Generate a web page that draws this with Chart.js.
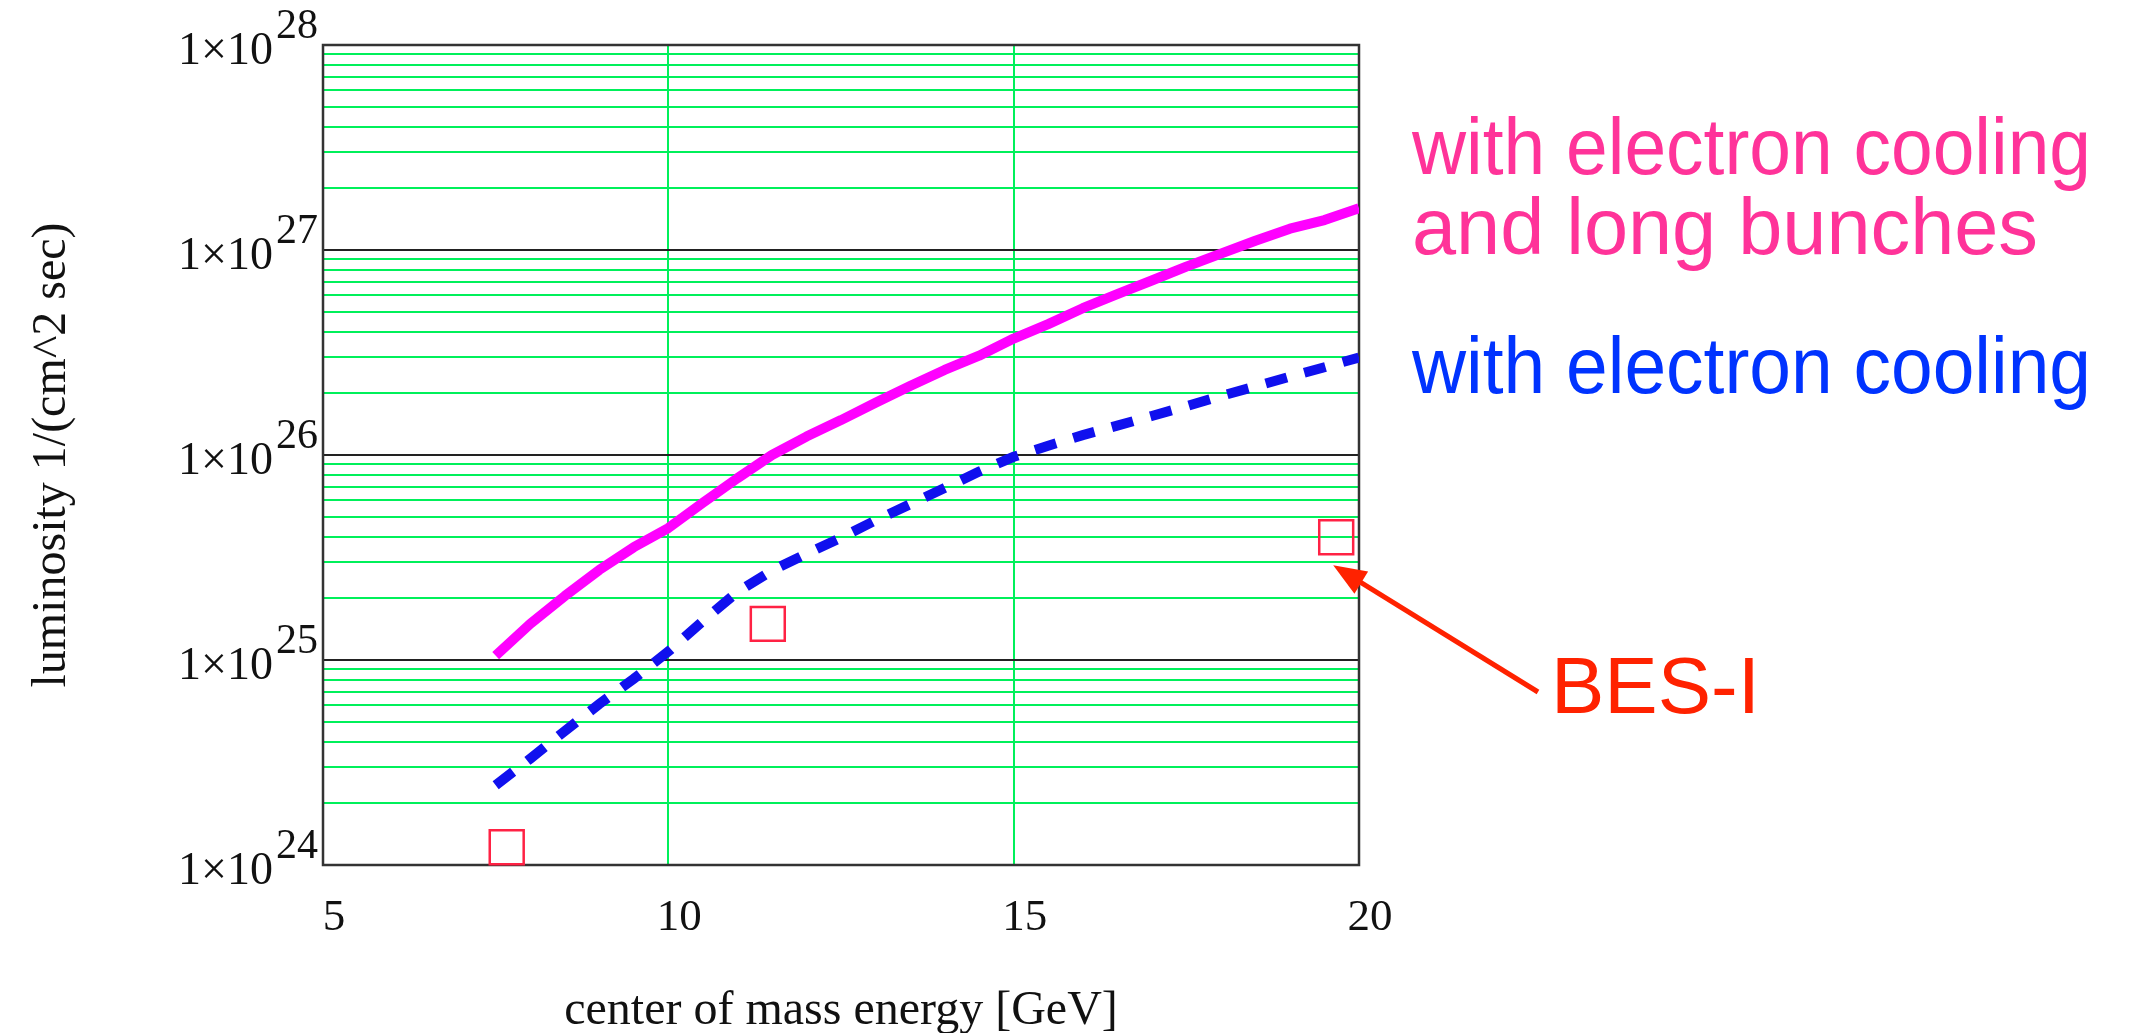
<!DOCTYPE html>
<html><head><meta charset="utf-8">
<script src="https://cdn.jsdelivr.net/npm/chart.js@4.4.0/dist/chart.umd.min.js"></script>
<style>html,body{margin:0;padding:0;background:#fff;overflow:hidden}#wrap{position:relative;width:2149px;height:1033px}</style>
</head><body><div id="wrap"><canvas id="c" width="2149" height="1033"></canvas></div>
<script>
// ---- data ----
const energies = [7.5, 8.0, 8.5, 9.0, 9.5, 10.0, 10.5, 11.0, 11.5, 12.0, 12.5, 13.0, 13.5,
                  14.0, 14.5, 15.0, 15.5, 16.0, 16.5, 17.0, 17.5, 18.0, 18.5, 19.0, 19.5, 20.0];
const lumiCoolingLongBunches = [1.05e25, 1.50e25, 2.05e25, 2.75e25, 3.55e25, 4.4e25, 5.85e25, 7.7e25, 1.0e26,
                  1.23e26, 1.48e26, 1.8e26, 2.17e26, 2.6e26, 3.05e26, 3.7e26, 4.35e26, 5.2e26, 6.1e26,
                  7.1e26, 8.3e26, 9.6e26, 1.11e27, 1.27e27, 1.40e27, 1.60e27];
const lumiCooling = [2.45e24, 3.3e24, 4.5e24, 6.1e24, 8.1e24, 1.1e25, 1.55e25, 2.15e25, 2.73e25,
                  3.3e25, 3.95e25, 4.8e25, 5.75e25, 6.9e25, 8.3e25, 9.8e25, 1.11e26, 1.25e26, 1.39e26,
                  1.55e26, 1.73e26, 1.94e26, 2.16e26, 2.41e26, 2.68e26, 2.99e26];
const besEnergies = [7.66, 11.44, 19.67];
const besLumi = [1.22e24, 1.5e25, 3.97e25];
const xTickValues = [5, 10, 15, 20];
const yDecadeExponents = [24, 25, 26, 27, 28];
const yMinorMantissas = [2, 3, 4, 5, 6, 7, 8, 9];
const seriesNames = ['with electron cooling and long bunches', 'with electron cooling', 'BES-I'];
const annotationLines = ['with electron cooling', 'and long bunches', 'with electron cooling', 'BES-I'];
const xTitle = 'center of mass energy [GeV]';
const yTitle = 'luminosity 1/(cm^2 sec)';

// ---- build library structures ----
const toXY = (xs, ys) => xs.map((x, i) => ({x: x, y: ys[i]}));
const yGridValues = [];
yDecadeExponents.forEach((e, i) => {
  yGridValues.push(Math.pow(10, e));
  if (i < yDecadeExponents.length - 1) yMinorMantissas.forEach(m => yGridValues.push(m * Math.pow(10, e)));
});
function mantissa(v) {
  const e = Math.floor(Math.log10(v) + 1e-9);
  return Math.round(v / Math.pow(10, e));
}

const GREEN = '#00f05a';
const SERIF = '"Liberation Serif", "Times New Roman", serif';
const SANS = '"Liberation Sans", Arial, sans-serif';

const decor = {
  id: 'decor',
  beforeDatasetsDraw(chart) {
    const {ctx, chartArea: a} = chart;
    ctx.save();
    ctx.strokeStyle = '#333';
    ctx.lineWidth = 2.5;
    ctx.strokeRect(a.left, a.top, a.right - a.left, a.bottom - a.top);
    ctx.restore();
  },
  afterDraw(chart) {
    const {ctx, chartArea: a} = chart;
    const ys = chart.scales.y, xs = chart.scales.x;
    ctx.save();
    // y tick labels 1x10^n
    ctx.fillStyle = '#111';
    ctx.textBaseline = 'alphabetic';
    ctx.textAlign = 'right';
    yDecadeExponents.forEach(e => {
      const py = ys.getPixelForValue(Math.pow(10, e));
      ctx.font = '42px ' + SERIF;
      const sup = String(e);
      const supW = ctx.measureText(sup).width;
      const right = a.left - 5;
      ctx.fillText(sup, right, py - 7);
      ctx.font = '46px ' + SERIF;
      ctx.fillText('1\u00d710', right - supW - 3, py + 19);
    });
    // annotations
    ctx.textAlign = 'left';
    ctx.font = '80px ' + SANS;
    ctx.fillStyle = '#ff3399';
    ctx.fillText(annotationLines[0], 1412, 174, 679);
    ctx.fillText(annotationLines[1], 1412, 254, 626);
    ctx.fillStyle = '#0033ff';
    ctx.fillText(annotationLines[2], 1412, 393, 679);
    ctx.fillStyle = '#ff2200';
    ctx.font = '80px ' + SANS;
    ctx.fillText(annotationLines[3], 1551, 713);
    // arrow to the last BES-I point
    const px = xs.getPixelForValue(besEnergies[2]);
    const py = ys.getPixelForValue(besLumi[2]);
    const tip = {x: px - 3, y: py + 28};
    const tail = {x: 1538, y: 692};
    const dx = tip.x - tail.x, dy = tip.y - tail.y, L = Math.hypot(dx, dy);
    const ux = dx / L, uy = dy / L;
    const hl = 33, hw = 13;
    const bx = tip.x - ux * hl, by = tip.y - uy * hl;
    ctx.strokeStyle = '#ff2200';
    ctx.fillStyle = '#ff2200';
    ctx.lineWidth = 5;
    ctx.beginPath(); ctx.moveTo(tail.x, tail.y); ctx.lineTo(bx + ux * 4, by + uy * 4); ctx.stroke();
    ctx.beginPath();
    ctx.moveTo(tip.x, tip.y);
    ctx.lineTo(bx - uy * hw, by + ux * hw);
    ctx.lineTo(bx + uy * hw, by - ux * hw);
    ctx.closePath(); ctx.fill();
    ctx.restore();
  }
};

new Chart(document.getElementById('c'), {
  type: 'line',
  data: {
    datasets: [
      {label: seriesNames[0], data: toXY(energies, lumiCoolingLongBunches), borderColor: '#ff00ff',
       borderWidth: 10, pointRadius: 0, tension: 0, fill: false, borderCapStyle: 'butt', borderJoinStyle: 'round'},
      {label: seriesNames[1], data: toXY(energies, lumiCooling), borderColor: '#1010ee',
       borderWidth: 10, borderDash: [22, 18], pointRadius: 0, tension: 0, fill: false, borderCapStyle: 'butt'},
      {label: seriesNames[2], data: toXY(besEnergies, besLumi), showLine: false, pointStyle: 'rect',
       pointRadius: 24, pointHoverRadius: 24, pointBorderWidth: 2.5, pointBorderColor: '#ff2244',
       pointBackgroundColor: 'rgba(0,0,0,0)', borderColor: '#ff2244', clip: false}
    ]
  },
  options: {
    responsive: false,
    animation: false,
    devicePixelRatio: 1,
    layout: {padding: {left: 0, right: 790, top: 45, bottom: 0}},
    plugins: {legend: {display: false}, tooltip: {enabled: false}},
    scales: {
      x: {
        type: 'linear', min: 5, max: 20,
        afterBuildTicks: s => { s.ticks = xTickValues.map(v => ({value: v})); },
        afterFit: s => { s.height = 168; },
        border: {display: false},
        grid: {drawTicks: false, lineWidth: 2,
               color: c => (c.tick && (c.tick.value === 5 || c.tick.value === 20)) ? 'rgba(0,0,0,0)' : GREEN},
        ticks: {autoSkip: false, maxRotation: 0, color: '#111', padding: 26, labelOffset: 11,
                font: {family: SERIF, size: 45}},
        title: {display: true, text: xTitle, color: '#111', padding: {top: 0, bottom: 0},
                font: {family: SERIF, size: 48, lineHeight: 0.92}}
      },
      y: {
        type: 'logarithmic', min: 1e24, max: 1e28,
        afterBuildTicks: s => { s.ticks = yGridValues.map(v => ({value: v})); },
        afterFit: s => { s.width = 323; },
        border: {display: false},
        grid: {drawTicks: false, lineWidth: 2,
               color: c => {
                 if (!c.tick) return GREEN;
                 const v = c.tick.value;
                 if (v <= 1e24 * 1.0001 || v >= 1e28 * 0.9999) return 'rgba(0,0,0,0)';
                 return mantissa(v) === 1 ? '#222' : GREEN;
               }},
        ticks: {display: false},
        title: {display: true, text: yTitle, color: '#111', padding: {top: 28, bottom: 0},
                font: {family: SERIF, size: 48, lineHeight: 1.0}}
      }
    }
  },
  plugins: [decor]
});
</script></body></html>
